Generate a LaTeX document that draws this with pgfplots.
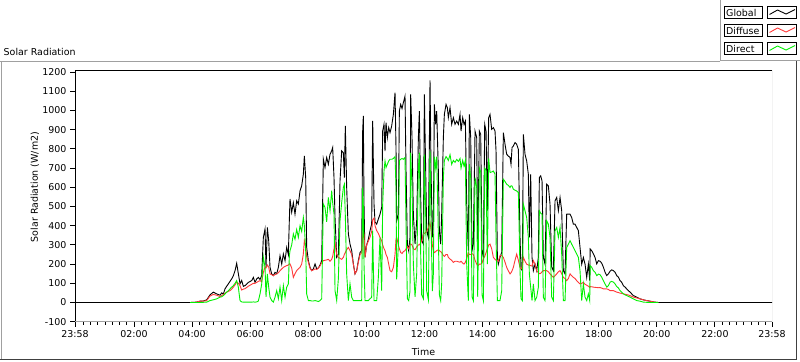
\documentclass[border=0pt]{standalone}
\usepackage{fontspec}
\setmainfont{DejaVu Sans}
\usepackage{pgfplots}
\usepackage{pgfplotstable}
\pgfplotsset{compat=1.18}
\definecolor{lgray}{HTML}{A0A0A0}
\definecolor{dgray}{HTML}{404040}
\definecolor{sred}{HTML}{FF3838}
\definecolor{sgreen}{HTML}{00F000}
\pgfplotstableread{
h g d r
-0.033 0 nan nan
3.927 0 0 0
4.157 2 2 0
4.271 7 7 0
4.386 8 7 1
4.501 14 10 2
4.616 40 34 10
4.730 54 42 14
4.845 45 38 19
4.960 38 31 28
5.017 50 36 30
5.075 45 42 36
5.132 71 48 45
5.190 85 54 54
5.247 97 58 62
5.304 110 62 71
5.362 123 70 80
5.419 140 80 88
5.477 166 92 100
5.534 204 106 114
5.591 150 100 80
5.649 97 88 10
5.706 115 65 3
5.764 84 70 2
5.821 88 72 2
5.936 105 85 2
6.051 114 95 2
6.108 131 100 3
6.165 105 100 2
6.223 123 105 3
6.280 131 110 8
6.338 120 114 45
6.395 140 108 97
6.452 339 157 236
6.510 383 185 183
6.544 183 180 30
6.590 391 195 149
6.636 322 185 80
6.682 183 149 28
6.739 149 145 10
6.797 140 140 2
6.854 157 145 28
6.912 150 149 62
6.969 183 155 20
7.026 244 166 80
7.084 200 175 10
7.141 253 183 88
7.199 218 188 28
7.256 287 192 80
7.313 250 195 97
7.348 435 201 244
7.370 539 201 270
7.428 470 180 300
7.485 520 131 357
7.542 460 150 330
7.600 530 166 380
7.657 513 175 340
7.715 582 183 400
7.772 608 200 370
7.829 668 253 443
7.864 764 322 400
7.910 650 290 271
7.944 287 240 45
8.002 218 210 10
8.059 183 178 10
8.116 166 166 8
8.174 175 170 8
8.231 201 175 10
8.289 175 172 8
8.346 180 180 5
8.403 195 190 10
8.461 218 210 20
8.518 746 218 513
8.575 703 220 495
8.633 755 222 420
8.690 720 225 547
8.748 772 215 478
8.805 790 225 582
8.839 807 240 520
8.885 650 280 460
8.920 443 313 62
8.977 235 250 10
9.035 250 235 124
9.092 634 230 426
9.149 790 225 520
9.207 780 235 599
9.241 650 250 616
9.275 920 260 450
9.321 600 275 149
9.379 357 287 10
9.436 305 270 97
9.494 270 250 27
9.551 201 200 10
9.608 149 149 10
9.666 166 166 10
9.723 218 210 10
9.781 260 250 10
9.838 271 260 10
9.872 894 340 599
9.895 972 370 500
9.918 512 360 200
9.953 235 235 10
10.010 300 300 10
10.068 330 320 10
10.125 374 340 20
10.182 409 370 27
10.217 946 430 374
10.263 512 440 10
10.297 420 400 10
10.355 408 374 10
10.412 435 360 131
10.469 460 339 339
10.527 495 322 62
10.561 894 300 512
10.607 928 280 686
10.641 789 270 737
10.676 937 250 703
10.722 859 235 720
10.768 911 200 737
10.814 885 166 746
10.871 920 160 746
10.929 980 183 750
10.986 1093 250 760
11.020 800 330 600
11.043 426 339 120
11.101 460 300 300
11.135 997 280 740
11.181 1032 261 746
11.227 1010 255 750
11.273 1041 265 746
11.330 1075 270 755
11.365 685 280 400
11.411 305 290 20
11.456 270 280 10
11.502 339 300 60
11.525 1084 305 780
11.571 859 300 600
11.617 460 280 200
11.675 304 275 30
11.732 426 290 150
11.790 859 300 700
11.824 997 300 780
11.870 547 310 250
11.904 322 320 40
11.962 304 356 20
11.996 1084 360 770
12.042 685 365 450
12.076 374 370 60
12.134 339 390 15
12.191 1157 417 790
12.226 685 380 420
12.271 339 300 60
12.306 426 270 150
12.340 1032 260 760
12.386 928 265 700
12.421 997 270 760
12.478 685 275 350
12.513 374 270 40
12.558 304 265 10
12.593 460 260 100
12.650 859 245 650
12.685 980 240 740
12.742 1032 250 760
12.788 1015 250 750
12.822 963 235 740
12.880 1015 226 770
12.937 928 220 720
12.995 963 209 740
13.052 928 215 730
13.110 945 215 745
13.167 928 212 735
13.224 980 210 750
13.259 893 215 700
13.316 963 205 740
13.362 928 200 710
13.408 945 210 740
13.454 512 230 200
13.511 270 260 10
13.546 980 250 720
13.592 859 250 650
13.637 270 255 30
13.683 304 250 10
13.741 893 220 650
13.798 859 200 600
13.833 270 190 30
13.890 893 200 700
13.936 876 200 680
13.982 270 205 40
14.028 235 230 10
14.074 928 240 700
14.120 893 260 690
14.165 478 280 200
14.211 963 300 750
14.257 980 304 677
14.314 902 280 680
14.372 911 235 685
14.429 893 225 668
14.464 789 220 339
14.510 235 220 10
14.544 200 215 10
14.601 235 244 10
14.659 261 245 62
14.716 885 235 642
14.774 824 210 630
14.831 772 183 616
14.888 763 165 610
14.946 755 149 599
14.980 720 155 608
15.015 807 165 607
15.060 815 183 590
15.118 833 220 585
15.175 824 252 581
15.233 798 220 573
15.290 339 183 166
15.324 175 175 20
15.370 166 185 10
15.405 876 235 512
15.462 772 215 478
15.519 737 200 443
15.577 668 195 339
15.611 339 195 150
15.657 668 192 80
15.703 235 190 10
15.749 166 218 97
15.806 200 200 10
15.864 166 166 27
15.921 235 155 79
15.956 651 150 478
16.002 660 152 465
16.048 633 160 460
16.093 235 166 27
16.151 200 166 10
16.208 616 166 426
16.266 607 160 408
16.323 512 149 339
16.381 183 140 27
16.438 166 131 10
16.495 530 140 374
16.553 547 149 391
16.610 478 160 339
16.668 547 166 391
16.725 478 150 252
16.782 166 131 10
16.840 149 125 10
16.897 460 114 287
16.955 460 125 304
17.012 460 149 322
17.069 443 140 304
17.127 408 131 287
17.184 408 125 270
17.242 391 114 252
17.299 374 105 235
17.356 287 97 166
17.414 200 100 10
17.471 235 105 97
17.529 200 95 27
17.586 131 90 10
17.643 200 85 45
17.690 114 79 10
17.705 279 83 192
17.758 270 82 184
17.816 253 80 166
17.873 235 79 158
17.931 201 78 140
17.988 218 77 148
18.045 215 78 145
18.103 205 75 132
18.160 184 71 114
18.218 158 71 97
18.275 140 71 80
18.332 149 68 88
18.390 163 62 106
18.447 170 62 110
18.505 166 62 106
18.562 158 58 97
18.619 140 54 83
18.677 132 52 76
18.734 114 49 62
18.792 105 47 54
18.849 88 45 45
18.907 80 43 40
18.964 71 41 36
19.021 62 39 32
19.079 54 36 28
19.194 36 28 19
19.308 28 24 10
19.423 19 19 7
19.538 14 14 2
19.652 10 10 1
19.767 7 7 0
19.882 3 3 0
19.997 1 1 0
20.054 0 0 0
23.967 0 nan nan
}\solar
\begin{document}
\begin{tikzpicture}[font=\fontsize{9.5}{11}\selectfont]
\begin{scope}[x=1bp,y=1bp]
\path[use as bounding box] (0,0) rectangle (800,-361);
\fill[white] (0,0) rectangle (800,-361);
% panel frame
\draw[lgray, line width=1] (0,-61.5) -- (720,-61.5);
\draw[lgray, line width=1] (1,-61.5) -- (1,-359.5);
\draw[dgray, line width=1] (796.5,-60) -- (796.5,-359.5);
\draw[dgray, line width=1] (0,-359.5) -- (797,-359.5);
% legend
\draw[lgray, line width=1] (720.5,0) -- (720.5,-60.5) -- (800,-60.5);
\foreach \t/\lab/\col in {6.5/Global/black, 24.5/Diffuse/sred, 42.5/Direct/sgreen}{
  \draw[black, line width=1] (724,-\t) rectangle (762.5,-\t-12);
  \node[anchor=west, inner sep=0] at (726,-\t-6) {\lab};
  \draw[black, line width=1] (767.5,-\t) rectangle (796.5,-\t-12);
  \draw[\col, line width=0.9] (769.5,-\t-8) -- (777.5,-\t-3.5) -- (786,-\t-7.5) -- (795,-\t-3);
}
% titles
\node[anchor=base west, inner sep=0] at (3.5,-55.5) {Solar Radiation};
\node[rotate=90, inner sep=0] at (35,-187) {Solar Radiation (W/m2)};
\node[inner sep=0] at (423.5,-352) {Time};
\end{scope}
\begin{axis}[
  at={(75bp,-321.7bp)}, anchor=south west,
  scale only axis, width=697bp, height=251.7bp,
  xmin=-0.0333, xmax=23.9667, ymin=-100, ymax=1211,
  axis line style={draw=none},
  tick align=outside, tick pos=left,
  major tick length=5bp, minor tick length=3bp,
  tick style={black, line width=1bp},
  xtick={-0.0333,2,4,6,8,10,12,14,16,18,20,22,23.9667},
  xticklabels={23:58,02:00,04:00,06:00,08:00,10:00,12:00,14:00,16:00,18:00,20:00,22:00,23:58},
  minor xtick={0.25,0.5,...,23.75},
  ytick={-100,0,100,200,300,400,500,600,700,800,900,1000,1100,1200},
  yticklabels={-100,0,100,200,300,400,500,600,700,800,900,1000,1100,1200},
  tick label style={font=\fontsize{9.5}{11}\selectfont},
  clip=true,
]
\addplot[black, line width=0.9bp] table[x=h, y=g] {\solar};
\addplot[sred, line width=0.9bp] table[x=h, y=d] {\solar};
\addplot[sgreen, line width=0.9bp] table[x=h, y=r] {\solar};
\draw[black, line width=1bp] (rel axis cs:0,0) -- (rel axis cs:0,1) -- (rel axis cs:1,1);
\draw[lgray, line width=1bp] (rel axis cs:1,1) -- (rel axis cs:1,0) -- (rel axis cs:0,0);
\end{axis}
\end{tikzpicture}
\end{document}
